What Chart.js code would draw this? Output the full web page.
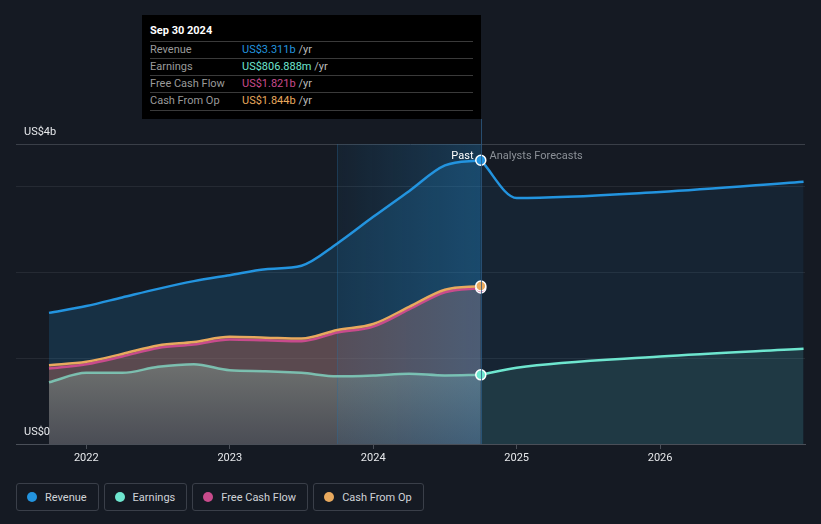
<!DOCTYPE html>
<html>
<head>
<meta charset="utf-8">
<script src="https://cdn.jsdelivr.net/npm/chart.js@4"></script>
<style>
  html, body { margin: 0; padding: 0; background: #151a23; font-family: Roboto, "DejaVu Sans", sans-serif; }
  #wrap { position: relative; width: 821px; height: 524px; overflow: hidden; }
  #box { position: absolute; left: 0; top: 0; width: 821px; height: 470px; }
  #tip { position: absolute; left: 142px; top: 15px; width: 339px; height: 104px; background: #000; }
  #tip .title { position: absolute; left: 8px; top: 9px; color: #fff; font-size: 11px; font-weight: bold; }
  #tip .row { position: absolute; left: 8px; width: 323px; height: 17px; border-top: 1px solid #3a3a3a; font-size: 11px; line-height: 16px; }
  #tip .row.last { border-bottom: 1px solid #3a3a3a; }
  #tip .lab { position: absolute; left: 0; color: #9a9a9a; }
  #tip .val { position: absolute; left: 92px; }
  #tip .unit { color: #bbb; }
  #legend { position: absolute; left: 16px; top: 483px; display: flex; }
  #legend .item { height: 26px; border: 1px solid #3a3f49; border-radius: 3px; margin-right: 5px; display: flex; align-items: center; padding: 0 11px 0 10px; color: #d0d3d8; font-size: 11px; }
  #legend .dot { width: 10px; height: 10px; border-radius: 50%; margin-right: 8px; }
</style>
</head>
<body>
<div id="wrap">
  <div id="box"><canvas id="chart"></canvas></div>
  <div id="tip"></div>
  <div id="legend"></div>
</div>
<script>
// values in US$ billions, x as decimal years
const pastYears = [2021.74, 2022, 2022.25, 2022.5, 2022.75, 2023, 2023.25, 2023.5, 2023.75, 2024, 2024.25, 2024.5, 2024.75];
const revenue = [1.53, 1.61, 1.71, 1.81, 1.90, 1.97, 2.04, 2.08, 2.34, 2.65, 2.95, 3.25, 3.311];
const earnings = [0.72, 0.83, 0.83, 0.90, 0.93, 0.86, 0.85, 0.83, 0.79, 0.80, 0.82, 0.80, 0.807];
const freeCashFlow = [0.88, 0.93, 1.02, 1.12, 1.16, 1.22, 1.21, 1.20, 1.30, 1.37, 1.57, 1.77, 1.821];
const cashFromOp = [0.92, 0.96, 1.05, 1.15, 1.19, 1.25, 1.24, 1.23, 1.33, 1.40, 1.60, 1.80, 1.844];

const forecastYears = [2024.75, 2025, 2026, 2027];
const revenueForecast = [3.311, 2.87, 2.94, 3.06];
const earningsForecast = [0.807, 0.89, 1.02, 1.11];

const yearTicks = [2022, 2023, 2024, 2025, 2026];
const highlightStart = 2023.75;
const pastEnd = 2024.75;

const seriesNames = ["Revenue", "Earnings", "Free Cash Flow", "Cash From Op"];
const seriesColors = ["#2394df", "#6ee6cf", "#c84b8c", "#e8a95e"];
const tipValues = ["US$3.311b", "US$806.888m", "US$1.821b", "US$1.844b"];

const pts = (xs, ys) => xs.map((x, i) => ({ x: x, y: ys[i] }));
const lastOnly = r => ctx => ctx.dataIndex === pastYears.length - 1 ? r : 0;

function earningsFill(ctx) {
  const chart = ctx.chart;
  if (!chart.chartArea) return "rgba(120,140,135,0.5)";
  const y = chart.scales.y;
  const g = chart.ctx.createLinearGradient(0, y.getPixelForValue(0.9), 0, y.getPixelForValue(0));
  g.addColorStop(0, "rgba(128,150,142,0.5)");
  g.addColorStop(1, "rgba(60,82,92,0.5)");
  return g;
}

const overlay = {
  id: "overlay",
  beforeDatasetsDraw(chart) {
    const { ctx, chartArea: a, scales: { x } } = chart;
    const x0 = x.getPixelForValue(highlightStart), x1 = x.getPixelForValue(pastEnd);
    const g = ctx.createLinearGradient(x0, 0, x1, 0);
    g.addColorStop(0, "rgba(35,148,223,0.07)");
    g.addColorStop(1, "rgba(35,148,223,0.26)");
    ctx.save();
    ctx.fillStyle = g;
    ctx.fillRect(x0, a.top, x1 - x0, a.bottom - a.top);
    ctx.strokeStyle = "rgba(40,110,160,0.35)";
    ctx.lineWidth = 1;
    ctx.beginPath();
    ctx.moveTo(Math.round(x0) + 0.5, a.top);
    ctx.lineTo(Math.round(x0) + 0.5, a.bottom);
    ctx.stroke();
    ctx.restore();
  },
  afterDatasetsDraw(chart) {
    const { ctx, chartArea: a, scales: { x, y } } = chart;
    const x1 = Math.round(x.getPixelForValue(pastEnd)) + 0.5;
    ctx.save();
    ctx.strokeStyle = "rgba(45,90,130,0.8)";
    ctx.lineWidth = 1;
    ctx.beginPath();
    ctx.moveTo(x1, 119);
    ctx.lineTo(x1, a.bottom);
    ctx.stroke();
    ctx.font = "11px Roboto, sans-serif";
    ctx.textBaseline = "middle";
    ctx.textAlign = "right";
    ctx.fillStyle = "#ffffff";
    ctx.fillText("Past", x1 - 8, a.top + 12);
    ctx.textAlign = "left";
    ctx.fillStyle = "#8b9097";
    ctx.fillText("Analysts Forecasts", x1 + 8, a.top + 12);
    ctx.fillStyle = "#e6e8eb";
    ctx.fillText("US$4b", a.left + 8, a.top - 12);
    ctx.fillText("US$0", a.left + 8, y.getPixelForValue(0) - 12);
    ctx.restore();
  }
};

new Chart(document.getElementById("chart"), {
  type: "line",
  data: {
    datasets: [
      {
        label: "Revenue",
        data: pts(pastYears, revenue),
        borderColor: seriesColors[0],
        backgroundColor: "rgba(35,148,223,0.18)",
        fill: "origin",
        borderWidth: 2.5,
        pointRadius: lastOnly(5),
        pointBackgroundColor: seriesColors[0],
        pointBorderColor: "#fff",
        pointBorderWidth: 1.5,
        order: 4
      },
      {
        label: "Revenue forecast",
        data: pts(forecastYears, revenueForecast),
        borderColor: seriesColors[0],
        backgroundColor: "rgba(35,148,223,0.09)",
        fill: "origin",
        borderWidth: 2.5,
        pointRadius: 0,
        order: 5
      },
      {
        label: "Cash From Op",
        data: pts(pastYears, cashFromOp),
        borderColor: seriesColors[3],
        backgroundColor: "rgba(174,106,93,0.45)",
        fill: "origin",
        borderWidth: 2.5,
        pointRadius: lastOnly(5),
        pointBackgroundColor: seriesColors[3],
        pointBorderColor: "#fff",
        pointBorderWidth: 1.5,
        order: 3
      },
      {
        label: "Free Cash Flow",
        data: pts(pastYears, freeCashFlow),
        borderColor: seriesColors[2],
        backgroundColor: "rgba(0,0,0,0)",
        fill: false,
        borderWidth: 2.5,
        pointRadius: lastOnly(5),
        pointBackgroundColor: seriesColors[2],
        pointBorderColor: "#fff",
        pointBorderWidth: 1.5,
        order: 3.5
      },
      {
        label: "Earnings",
        data: pts(pastYears, earnings),
        borderColor: "rgba(130,215,195,0.8)",
        backgroundColor: earningsFill,
        fill: "origin",
        borderWidth: 2.5,
        pointRadius: lastOnly(5),
        pointBackgroundColor: seriesColors[1],
        pointBorderColor: "#fff",
        pointBorderWidth: 1.5,
        order: 1
      },
      {
        label: "Earnings forecast",
        data: pts(forecastYears, earningsForecast),
        borderColor: seriesColors[1],
        backgroundColor: "rgba(110,230,207,0.11)",
        fill: "origin",
        borderWidth: 2.5,
        pointRadius: 0,
        order: 2
      }
    ]
  },
  options: {
    responsive: true,
    maintainAspectRatio: false,
    animation: false,
    layout: { padding: { top: 144, left: 16, right: 16, bottom: 0 } },
    plugins: {
      legend: { display: false },
      tooltip: { enabled: false },
      filler: { drawTime: "beforeDatasetsDraw" }
    },
    elements: { line: { cubicInterpolationMode: "monotone" } },
    scales: {
      x: {
        type: "linear",
        min: 2021.51,
        max: 2027.01,
        afterBuildTicks: axis => { axis.ticks = yearTicks.map(v => ({ value: v })); },
        afterFit: axis => { axis.height = 26; },
        ticks: {
          color: "#e6e8eb",
          font: { family: "Roboto", size: 11 },
          padding: 3,
          maxRotation: 0,
          callback: v => String(v)
        },
        grid: { drawOnChartArea: false, drawTicks: true, tickLength: 5, color: "#4a4f58" },
        border: { color: "#4a4f58" }
      },
      y: {
        min: 0,
        max: 3.5,
        afterBuildTicks: axis => { axis.ticks = [0, 1, 2, 3, 3.5].map(v => ({ value: v })); },
        afterFit: axis => { axis.width = 0; },
        ticks: { display: false },
        grid: {
          drawTicks: false,
          color: ctx => ctx.tick && ctx.tick.value === 3.5 ? "#3a3f48" : "#252a33"
        },
        border: { display: false }
      }
    }
  },
  plugins: [overlay]
});

// tooltip box
const tip = document.getElementById("tip");
let html = '<div class="title">Sep 30 2024</div>';
seriesNames.forEach((name, i) => {
  html += '<div class="row' + (i === seriesNames.length - 1 ? " last" : "") + '" style="top:' + (26 + i * 17) + 'px">' +
    '<span class="lab">' + name + '</span>' +
    '<span class="val"><span style="color:' + seriesColors[i] + '">' + tipValues[i] + '</span> <span class="unit">/yr</span></span></div>';
});
tip.innerHTML = html;

// legend
const legend = document.getElementById("legend");
seriesNames.forEach((name, i) => {
  const item = document.createElement("div");
  item.className = "item";
  item.innerHTML = '<span class="dot" style="background:' + seriesColors[i] + '"></span>' + name;
  legend.appendChild(item);
});
</script>
</body>
</html>
